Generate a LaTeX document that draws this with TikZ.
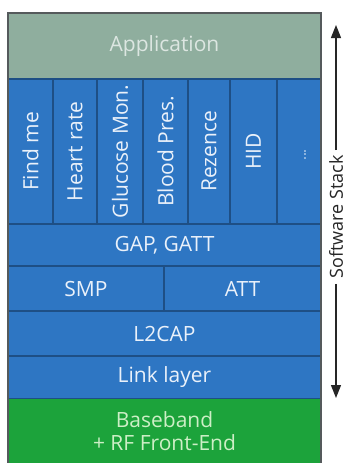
\documentclass[tikz,border=0pt]{standalone}
\usepackage{fontspec}
\setmainfont{Open Sans}
\usetikzlibrary{arrows.meta}

\definecolor{appgray}{HTML}{8FAE9E}
\definecolor{stackblue}{HTML}{2E76C3}
\definecolor{phygreen}{HTML}{1CA33B}
\definecolor{divider}{HTML}{1E4F85}
\definecolor{framegray}{HTML}{555A5C}
\definecolor{bluetext}{HTML}{EAF1FA}
\definecolor{apptext}{HTML}{DCE6E1}
\definecolor{greentext}{HTML}{CDEFC6}

\tikzset{
  layer/.style={draw=divider, line width=1.6pt, fill=stackblue, text=bluetext,
    inner sep=0pt, font=\fontsize{21}{24}\selectfont},
  profile/.style={layer, text=bluetext},
  proftext/.style={rotate=90, text=bluetext, inner sep=0pt,
    font=\fontsize{21}{24}\selectfont},
  stacklabel/.style={rotate=90, fill=white, inner xsep=5pt, inner ysep=1pt,
    text=black!85, font=\fontsize{18}{22}\selectfont},
  stackarrow/.style={line width=1.3pt, black!85, -{Triangle[width=10pt,length=13pt]}}
}

\begin{document}
\begin{tikzpicture}[x=1pt,y=-1pt]
\useasboundingbox (0,0) rectangle (346,463);
\fill[white] (0,0) rectangle (346,463);

% application layer
\node[layer, fill=appgray, text=apptext, minimum width=313pt, minimum height=66pt]
  (app) at (164.5,46) {Application};

% profile columns
\node[profile, minimum width=45pt, minimum height=145pt] (c1) at (30.5,151.5) {};
\node[profile, minimum width=44pt, minimum height=145pt] (c2) at (75,151.5) {};
\node[profile, minimum width=46pt, minimum height=145pt] (c3) at (120,151.5) {};
\node[profile, minimum width=45pt, minimum height=145pt] (c4) at (165.5,151.5) {};
\node[profile, minimum width=42pt, minimum height=145pt] (c5) at (209,151.5) {};
\node[profile, minimum width=47pt, minimum height=145pt] (c6) at (253.5,151.5) {};
\node[profile, minimum width=44pt, minimum height=145pt] (c7) at (299,151.5) {};

\node[proftext] (t1) at (c1) {Find me};
\node[proftext] (t2) at (c2) {Heart rate};
\node[proftext] (t3) at (c3) {Glucose Mon.};
\node[proftext] (t4) at (c4) {Blood Pres.};
\node[proftext] (t5) at (c5) {Rezence};
\node[proftext] (t6) at (c6) {HID};
\node[proftext, text=bluetext!75!stackblue, font=\fontsize{15}{18}\selectfont]
  (t7) at (305,155) {...};

% protocol layers
\node[layer, minimum width=313pt, minimum height=42pt] (gap) at (164.5,245) {GAP, GATT};
\node[layer, minimum width=156pt, minimum height=45pt] (smp) at (86,288.5) {SMP};
\node[layer, minimum width=157pt, minimum height=45pt] (att) at (242.5,288.5) {ATT};
\node[layer, minimum width=313pt, minimum height=45pt] (l2cap) at (164.5,333.5) {L2CAP};
\node[layer, minimum width=313pt, minimum height=43pt] (link) at (164.5,377.5) {Link layer};

% physical layer
\node[layer, draw=none, fill=phygreen, text=greentext, minimum width=313pt,
  minimum height=64pt, align=center, font=\fontsize{21}{23}\selectfont]
  (phy) at (164.5,431) {Baseband\\+ RF Front-End};

% outer frame
\draw[framegray, line width=1.4pt] (8,463) -- (8,13) -- (321,13) -- (321,463);

% software stack arrow, split by its label
\node[stacklabel] (lbl) at (336,217) {Software Stack};
\coordinate (top) at (lbl |- 0,25);
\coordinate (bot) at (lbl |- 0,398);
\draw[stackarrow] (lbl) -- (top);
\draw[stackarrow] (lbl) -- (bot);
\end{tikzpicture}
\end{document}
